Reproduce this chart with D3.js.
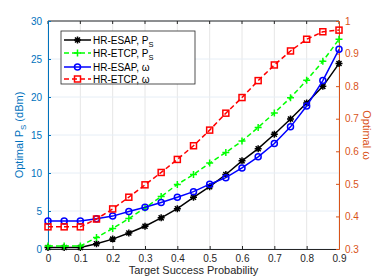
<!DOCTYPE html>
<html><head><meta charset="utf-8">
<script src="https://cdn.jsdelivr.net/npm/d3@7"></script>
<style>body{margin:0;background:#fff}svg{font-family:"Liberation Sans",Arial,sans-serif}</style>
</head><body>
<svg id="c" width="374" height="280"></svg>
<script>
const probs = [0,0.05,0.1,0.15,0.2,0.25,0.3,0.35,0.4,0.45,0.5,0.55,0.6,0.65,0.7,0.75,0.8,0.85,0.9];
const esapPs = [0.2,0.2,0.2,0.7,1.3,2.1,3.0,4.1,5.3,6.8,8.2,9.8,11.6,13.2,15.1,17.1,19.2,21.4,24.4];
const etcpPs = [0.4,0.4,0.4,1.5,2.7,4.0,5.4,6.9,8.5,9.8,11.3,12.7,14.2,16.0,17.9,19.9,22.2,24.7,27.6];
const esapW = [0.386,0.386,0.386,0.393,0.401,0.415,0.428,0.443,0.459,0.476,0.499,0.519,0.549,0.583,0.624,0.675,0.739,0.817,0.913];
const etcpW = [0.368,0.368,0.368,0.392,0.423,0.459,0.497,0.535,0.575,0.617,0.665,0.717,0.765,0.817,0.865,0.908,0.944,0.967,0.972];
const xTicks = [0,0.1,0.2,0.3,0.4,0.5,0.6,0.7,0.8,0.9];
const yLTicks = [0,5,10,15,20,25,30];
const yRTicks = [0.3,0.4,0.5,0.6,0.7,0.8,0.9,1];

const svg = d3.select("#c");
const L=48,R=339,T=21,B=249;
const x = d3.scaleLinear().domain([0,0.9]).range([L,R]);
const yL = d3.scaleLinear().domain([0,30]).range([B,T]);
const yR = d3.scaleLinear().domain([0.3,1]).range([B,T]);
const blueAx="#0072BD", orangeAx="#D95319", grayTxt="#262626";

// grid
const g = svg.append("g");
g.selectAll("line.gx").data(xTicks).join("line").attr("x1",d=>x(d)).attr("x2",d=>x(d)).attr("y1",T).attr("y2",B).attr("stroke","#e6e6e6").attr("stroke-width",1);
g.selectAll("line.gy").data(yLTicks).join("line").attr("y1",d=>yL(d)).attr("y2",d=>yL(d)).attr("x1",L).attr("x2",R).attr("stroke","#e6eef6").attr("stroke-width",1);

// axes
const ax = d3.axisBottom(x).tickValues(xTicks).tickFormat(d3.format("")).tickSizeInner(-3).tickSizeOuter(0).tickPadding(6);
const axG = svg.append("g").attr("transform",`translate(0,${B})`).call(ax);
axG.select(".domain").attr("stroke","#262626");
axG.selectAll(".tick line").attr("stroke","#262626");
axG.selectAll("text").attr("fill",grayTxt).attr("font-size",10);
// top border
svg.append("line").attr("x1",L).attr("x2",R).attr("y1",T).attr("y2",T).attr("stroke","#262626");
svg.append("g").selectAll("line").data(xTicks).join("line").attr("x1",d=>x(d)).attr("x2",d=>x(d)).attr("y1",T).attr("y2",T+3).attr("stroke","#262626");

const al = d3.axisLeft(yL).tickValues(yLTicks).tickSizeInner(-3).tickSizeOuter(0).tickPadding(6);
const alG = svg.append("g").attr("transform",`translate(${L},0)`).call(al);
alG.select(".domain").attr("stroke",blueAx);
alG.selectAll(".tick line").attr("stroke",blueAx);
alG.selectAll("text").attr("fill",blueAx).attr("font-size",10);

const ar = d3.axisRight(yR).tickValues(yRTicks).tickFormat(d3.format("")).tickSizeInner(-3).tickSizeOuter(0).tickPadding(6);
const arG = svg.append("g").attr("transform",`translate(${R},0)`).call(ar);
arG.select(".domain").attr("stroke",orangeAx);
arG.selectAll(".tick line").attr("stroke",orangeAx);
arG.selectAll("text").attr("fill",orangeAx).attr("font-size",10);

// axis labels
svg.append("text").attr("x",(L+R)/2).attr("y",274).attr("text-anchor","middle").attr("font-size",11).attr("fill",grayTxt).text("Target Success Probability");
const ylab = svg.append("text").attr("transform",`translate(23,${(T+B)/2}) rotate(-90)`).attr("text-anchor","middle").attr("font-size",11).attr("fill",blueAx);
ylab.append("tspan").text("Optimal P");
ylab.append("tspan").attr("font-size",8).attr("dy",3).text("S");
ylab.append("tspan").attr("dy",-3).text(" (dBm)");
svg.append("text").attr("transform",`translate(363,${(T+B)/2}) rotate(90)`).attr("text-anchor","middle").attr("font-size",11).attr("fill",orangeAx).text("Optimal ω");

// markers
function star(sel,cx,cy,r,col){
  const a=r*0.72;
  sel.append("path").attr("d",`M${cx-r},${cy}H${cx+r}M${cx},${cy-r}V${cy+r}M${cx-a},${cy-a}L${cx+a},${cy+a}M${cx-a},${cy+a}L${cx+a},${cy-a}`).attr("stroke",col).attr("stroke-width",1.5).attr("fill","none");
}
function plus(sel,cx,cy,r,col){
  sel.append("path").attr("d",`M${cx-r},${cy}H${cx+r}M${cx},${cy-r}V${cy+r}`).attr("stroke",col).attr("stroke-width",1.5).attr("fill","none");
}
function circ(sel,cx,cy,r,col){
  sel.append("circle").attr("cx",cx).attr("cy",cy).attr("r",r-0.5).attr("stroke",col).attr("stroke-width",1.5).attr("fill","none");
}
function sq(sel,cx,cy,r,col){
  sel.append("rect").attr("x",cx-r+0.5).attr("y",cy-r+0.5).attr("width",2*r-1).attr("height",2*r-1).attr("stroke",col).attr("stroke-width",1.5).attr("fill","none");
}

const series = [
  {name:"HR-ESAP, P", sub:"S", vals:esapPs, y:yL, col:"#000000", dash:null, mk:star},
  {name:"HR-ETCP, P", sub:"S", vals:etcpPs, y:yL, col:"#00FF00", dash:"5,3", mk:plus},
  {name:"HR-ESAP, ω", sub:null, vals:esapW, y:yR, col:"#0000FF", dash:null, mk:circ},
  {name:"HR-ETCP, ω", sub:null, vals:etcpW, y:yR, col:"#FF0000", dash:"5,3", mk:sq}
];
const plot = svg.append("g");
series.forEach(s=>{
  const line = d3.line().x((d,i)=>x(probs[i])).y(d=>s.y(d));
  plot.append("path").datum(s.vals).attr("d",line).attr("fill","none").attr("stroke",s.col).attr("stroke-width",1.5).attr("stroke-dasharray",s.dash);
  const mg = plot.append("g");
  s.vals.forEach((v,i)=>s.mk(mg,x(probs[i]),s.y(v),3.5,s.col));
});

// legend
const lg = svg.append("g");
lg.append("rect").attr("x",61).attr("y",31).attr("width",134).attr("height",53).attr("fill","#fff").attr("stroke","#262626").attr("stroke-width",0.8);
const ly=[40,53,67,79];
series.forEach((s,i)=>{
  lg.append("line").attr("x1",64).attr("x2",91).attr("y1",ly[i]).attr("y2",ly[i]).attr("stroke",s.col).attr("stroke-width",1.5).attr("stroke-dasharray",s.dash);
  s.mk(lg,77.5,ly[i],3.5,s.col);
  const t = lg.append("text").attr("x",93).attr("y",ly[i]+3.5).attr("font-size",10).attr("fill","#000");
  t.append("tspan").text(s.name);
  if(s.sub) t.append("tspan").attr("font-size",7.5).attr("dy",3).text(s.sub);
});
</script>
</body></html>
